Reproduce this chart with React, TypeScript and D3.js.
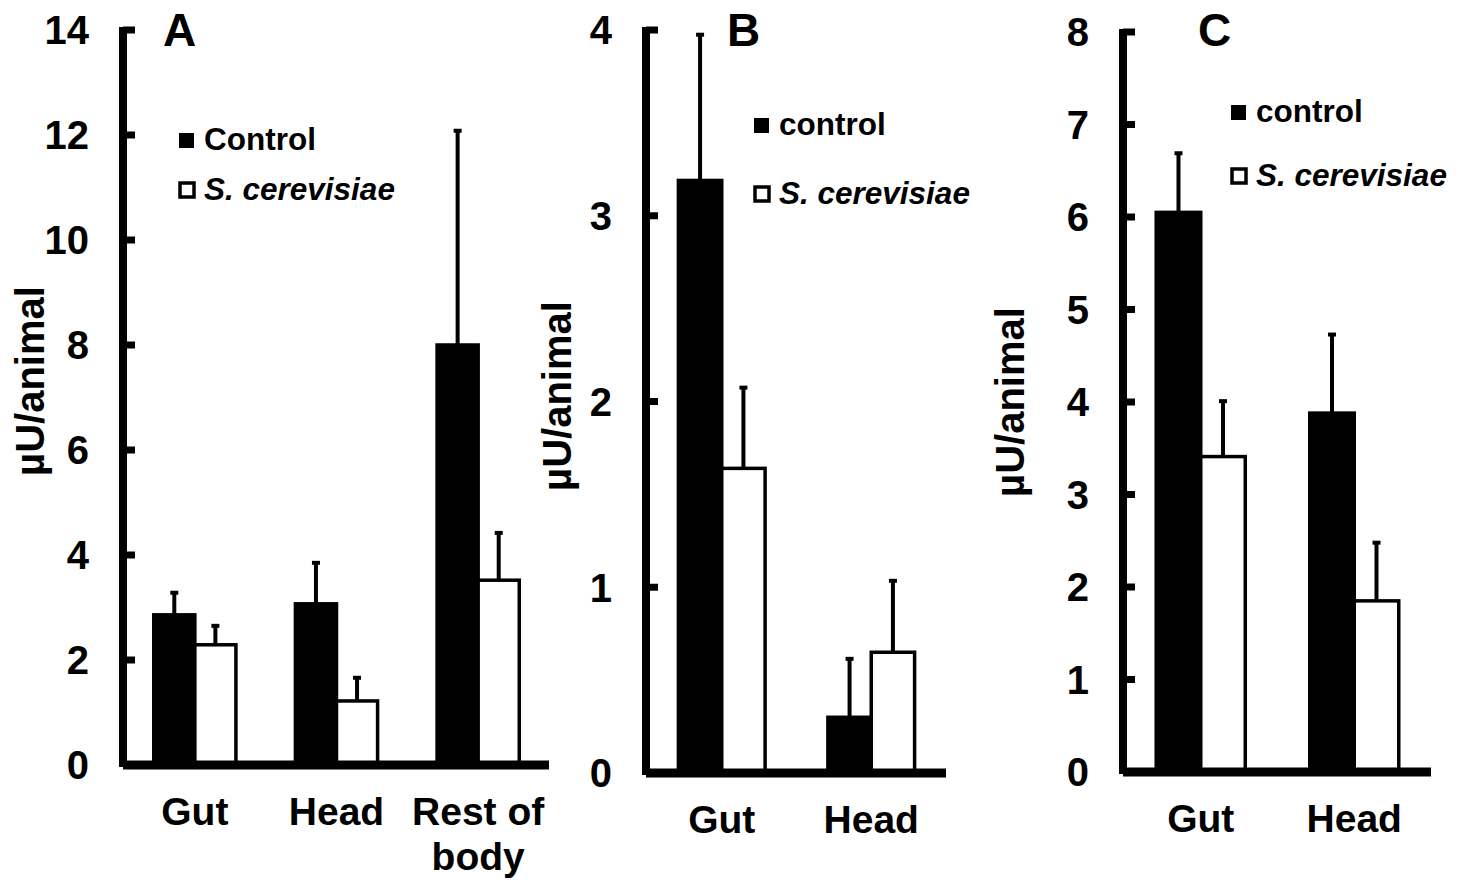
import { scaleBand, scaleLinear } from 'd3';

// Panel A – whole-body distribution
const catsA = ['Gut', 'Head', 'Rest of body'];
const controlA = [2.86, 3.07, 8.0];
const controlErrA = [0.44, 0.8, 4.1];
const yeastA = [2.29, 1.22, 3.52];
const yeastErrA = [0.38, 0.46, 0.92];
const ticksA = [0, 2, 4, 6, 8, 10, 12, 14];

// Panel B
const catsB = ['Gut', 'Head'];
const controlB = [3.19, 0.3];
const controlErrB = [0.79, 0.32];
const yeastB = [1.64, 0.65];
const yeastErrB = [0.44, 0.39];
const ticksB = [0, 1, 2, 3, 4];

// Panel C
const catsC = ['Gut', 'Head'];
const controlC = [6.05, 3.88];
const controlErrC = [0.65, 0.86];
const yeastC = [3.41, 1.85];
const yeastErrC = [0.61, 0.64];
const ticksC = [0, 1, 2, 3, 4, 5, 6, 7, 8];

const seriesNames = ['control', 'yeast'];
const FONT = '"Liberation Sans", Arial, Helvetica, sans-serif';

interface PanelProps {
  letter: string;
  cats: string[];
  control: number[];
  controlErr: number[];
  yeast: number[];
  yeastErr: number[];
  ticks: number[];
  controlLabel: string;
  x0: number; x1: number; top: number; base: number;
  letterX: number;
  legendX: number; legendY1: number; legendY2: number;
  titleX: number; titleY: number;
  catBaseline: number;
}

function Panel(p: PanelProps) {
  const yMax = p.ticks[p.ticks.length - 1];
  const y = scaleLinear().domain([0, yMax]).range([p.base, p.top]);
  const x = scaleBand<string>().domain(p.cats).range([p.x0, p.x1]).paddingInner(0.42).paddingOuter(0.21);
  const inner = scaleBand<string>().domain(seriesNames).range([0, x.bandwidth()]);
  const axisX = p.x0 - 1;
  const bw = inner.bandwidth();

  const bars = p.cats.flatMap((c, i) => [
    { c, s: 'control', v: p.control[i], e: p.controlErr[i] },
    { c, s: 'yeast', v: p.yeast[i], e: p.yeastErr[i] },
  ]);

  return (
    <g>
      {/* bars with upward error bars */}
      {bars.map(b => {
        const bx = (x(b.c) ?? 0) + (inner(b.s) ?? 0);
        const cx = bx + bw / 2;
        return (
          <g key={b.c + b.s}>
            <line x1={cx} x2={cx} y1={y(b.v)} y2={y(b.v + b.e)} stroke="#000" strokeWidth={4} />
            <line x1={cx - 4} x2={cx + 4} y1={y(b.v + b.e) + 1} y2={y(b.v + b.e) + 1} stroke="#000" strokeWidth={4} />
            <rect x={bx} y={y(b.v)} width={bw} height={p.base - y(b.v)}
              fill={b.s === 'control' ? '#000' : '#fff'} stroke="#000" strokeWidth={3.5} />
          </g>
        );
      })}

      {/* y axis */}
      <line x1={axisX} x2={axisX} y1={y(yMax) - 3} y2={p.base + 2} stroke="#000" strokeWidth={8} />
      {p.ticks.filter(t => t > 0).map(t => (
        <line key={t} x1={axisX} x2={axisX + 12} y1={y(t)} y2={y(t)} stroke="#000" strokeWidth={7} />
      ))}
      {p.ticks.map(t => (
        <text key={t} x={axisX - 34} y={y(t)} dy="0.36em" textAnchor="end"
          fontFamily={FONT} fontWeight="bold" fontSize={40}>{t}</text>
      ))}
      {/* x axis */}
      <line x1={axisX} x2={p.x1} y1={p.base} y2={p.base} stroke="#000" strokeWidth={9} />

      {/* category labels */}
      {p.cats.map(c => {
        const cx = (x(c) ?? 0) + x.bandwidth() / 2;
        const lines = c === 'Rest of body' ? ['Rest of', 'body'] : [c];
        return (
          <text key={c} x={cx} y={p.catBaseline} textAnchor="middle"
            fontFamily={FONT} fontWeight="bold" fontSize={39}>
            {lines.map((l, i) => <tspan key={l} x={cx} dy={i === 0 ? 0 : 45}>{l}</tspan>)}
          </text>
        );
      })}

      {/* y title */}
      <text transform={`translate(${p.titleX},${p.titleY}) rotate(-90)`} textAnchor="middle"
        fontFamily={FONT} fontWeight="bold" fontSize={40}>µU/animal</text>

      {/* panel letter */}
      <text x={p.letterX} y={46} fontFamily={FONT} fontWeight="bold" fontSize={46}>{p.letter}</text>

      {/* legend */}
      <rect x={p.legendX} y={p.legendY1 - 17} width={15} height={15} fill="#000" />
      <text x={p.legendX + 25} y={p.legendY1} fontFamily={FONT} fontWeight="bold" fontSize={31.5}>{p.controlLabel}</text>
      <rect x={p.legendX + 1} y={p.legendY2 - 17} width={14} height={14} fill="#fff" stroke="#000" strokeWidth={3.5} />
      <text x={p.legendX + 25} y={p.legendY2} fontFamily={FONT} fontWeight="bold" fontStyle="italic" fontSize={31.5}>S. cerevisiae</text>
    </g>
  );
}

export default function App() {
  return (
    <svg width={1468} height={880} style={{ position: 'absolute', left: 0, top: 0, background: '#fff' }}>
      <rect width={1468} height={880} fill="#fff" />
      <Panel letter="A" cats={catsA} control={controlA} controlErr={controlErrA} yeast={yeastA} yeastErr={yeastErrA}
        ticks={ticksA} controlLabel="Control"
        x0={124} x1={549} top={30} base={765}
        letterX={163} legendX={179} legendY1={150} legendY2={200}
        titleX={44} titleY={381} catBaseline={825} />
      <Panel letter="B" cats={catsB} control={controlB} controlErr={controlErrB} yeast={yeastB} yeastErr={yeastErrB}
        ticks={ticksB} controlLabel="control"
        x0={647} x1={946} top={30} base={773}
        letterX={727} legendX={754} legendY1={135} legendY2={204}
        titleX={571} titleY={396} catBaseline={833} />
      <Panel letter="C" cats={catsC} control={controlC} controlErr={controlErrC} yeast={yeastC} yeastErr={yeastErrC}
        ticks={ticksC} controlLabel="control"
        x0={1124} x1={1431} top={32} base={772}
        letterX={1198} legendX={1231} legendY1={122} legendY2={186}
        titleX={1024} titleY={402} catBaseline={832} />
    </svg>
  );
}
